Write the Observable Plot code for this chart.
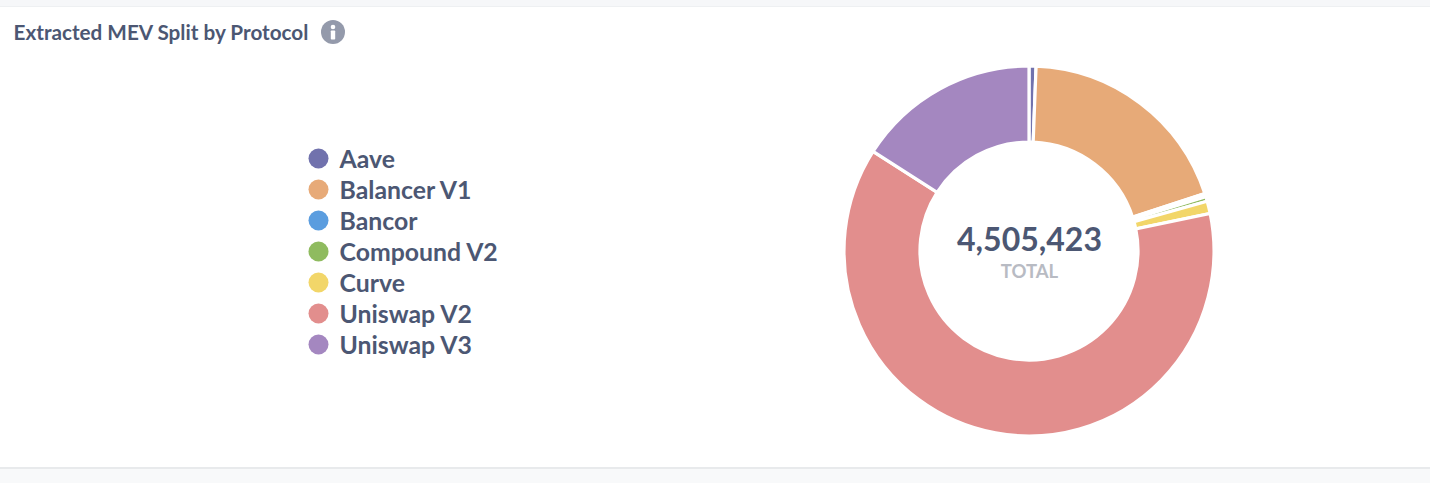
<!DOCTYPE html>
<html>
<head>
<meta charset="utf-8">
<script src="https://cdn.jsdelivr.net/npm/d3@7"></script>
<script src="https://cdn.jsdelivr.net/npm/@observablehq/plot@0.6"></script>
<style>
  html, body { margin: 0; padding: 0; background: #f8f9fa; }
  body { width: 1430px; height: 483px; overflow: hidden; font-family: Lato, sans-serif; }
  #strip { height: 6px; background: #f6f7f9; border-bottom: 1px solid #eef0f2; }
  #card { background: #fff; width: 1430px; }
  #head { height: 53px; position: relative; }
  #head h2 { position: absolute; left: 13.5px; top: 11px; margin: 0; font: 700 20.7px/28px Lato, sans-serif; color: #4c5773; white-space: nowrap; }
  #head svg { position: absolute; left: 321px; top: 13px; }
  #chart svg { display: block; background: transparent; }
  #foot { height: 16px; background: #f8f9fa; border-top: 2px solid #e8eaec; box-sizing: border-box; }
</style>
</head>
<body>
<div id="strip"></div>
<div id="card">
  <div id="head">
    <h2>Extracted MEV Split by Protocol</h2>
    <svg width="24" height="24" viewBox="0 0 24 24" aria-hidden="true">
      <circle cx="12" cy="12" r="12" fill="#949aab"/>
      <circle cx="12" cy="7" r="2.3" fill="#fff"/>
      <rect x="9.8" y="10.5" width="4.4" height="9" rx="0.8" fill="#fff"/>
    </svg>
  </div>
  <div id="chart"></div>
</div>
<div id="foot"></div>
<script>
const protocols = ["Aave", "Balancer V1", "Bancor", "Compound V2", "Curve", "Uniswap V2", "Uniswap V3"];
const extracted = [27500, 872400, 12500, 19000, 48600, 2806423, 719000];
const colors = ["#7172ad", "#e7aa78", "#5b9ddf", "#8fbb5f", "#f2d669", "#e28e8d", "#a487c0"];
const totalLabel = "TOTAL";

const rows = protocols.map((name, i) => ({name, value: extracted[i]}));
const total = d3.sum(extracted);

const cx = 1029, cy = 191, rOuter = 185, rInner = 109;

function donut(index, scales) {
  const pie = d3.pie().sort(null).value(d => d.value)(rows);
  const arc = d3.arc().innerRadius(rInner).outerRadius(rOuter);
  const g = d3.create("svg:g").attr("transform", `translate(${cx},${cy})`);
  g.selectAll("path").data(pie).join("path")
    .attr("d", arc)
    .attr("fill", d => scales.color(d.data.name))
    .attr("stroke", "#fff")
    .attr("stroke-width", 3.2)
    .attr("stroke-linejoin", "miter");
  return g.node();
}

const plot = Plot.plot({
  width: 1430,
  height: 407,
  margin: 0,
  style: {background: "transparent", fontFamily: "Lato, sans-serif"},
  color: {type: "ordinal", domain: protocols, range: colors},
  y: {type: "point", domain: protocols, range: [98, 284], padding: 0, axis: null},
  marks: [
    donut,
    Plot.dot(rows, {y: "name", fill: "name", r: 10, frameAnchor: "left", dx: 318}),
    Plot.text(rows, {y: "name", text: "name", frameAnchor: "left", textAnchor: "start", dx: 339, dy: 2,
      fill: "#4c5773", fontSize: 24.8, fontWeight: 700}),
    Plot.text([total], {text: d => d3.format(",")(d), frameAnchor: "top-left", lineAnchor: "middle", textAnchor: "middle", dx: cx, dy: 180,
      fill: "#4c5773", fontSize: 32, fontWeight: 700}),
    Plot.text([totalLabel], {text: d => d, frameAnchor: "top-left", lineAnchor: "middle", textAnchor: "middle", dx: cx, dy: 212,
      fill: "#b8bbc3", fontSize: 18.5, fontWeight: 700})
  ]
});
document.getElementById("chart").append(plot);
</script>
</body>
</html>
